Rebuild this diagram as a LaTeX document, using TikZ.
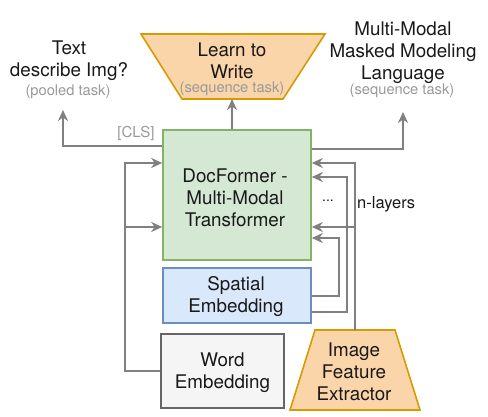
\documentclass[tikz,border=0pt]{standalone}
\usepackage{fontspec}
\setmainfont{TeX Gyre Heros}
\usetikzlibrary{arrows.meta}
\definecolor{gfill}{HTML}{D5E8D4}
\definecolor{gline}{HTML}{82B366}
\definecolor{bfill}{HTML}{DAE8FC}
\definecolor{bline}{HTML}{6C8EBF}
\definecolor{wfill}{HTML}{F5F5F5}
\definecolor{wline}{HTML}{666666}
\definecolor{ofill}{HTML}{FAD5A9}
\definecolor{oline}{HTML}{D79B00}
\definecolor{arrc}{HTML}{808080}
\definecolor{subc}{HTML}{999999}
\tikzset{
  box/.style={draw, line width=1.6pt, inner sep=0pt, align=center},
  maintxt/.style={font=\fontsize{18.8}{22}\selectfont, align=center, inner sep=0pt, text=black!90},
  subtxt/.style={font=\fontsize{14.7}{16}\selectfont, inner sep=0pt, text=subc},
  arr/.style={draw=arrc, line width=1.8pt, -{Stealth[length=11pt,width=10pt]}},
}
\begin{document}
\begin{tikzpicture}[x=1pt,y=-1pt]
\useasboundingbox (0,0) rectangle (488,417);
% boxes
\node[box, draw=gline, fill=gfill, minimum width=148pt, minimum height=130pt] (green) at (237,195) {};
\node[maintxt] (greent) at (235,198) {DocFormer -\\Multi-Modal\\Transformer};
\node[box, draw=bline, fill=bfill, minimum width=148pt, minimum height=55pt] (blue) at (237,295.5) {};
\node[maintxt] (bluet) at (236,297) {Spatial\\Embedding};
\node[box, draw=wline, fill=wfill, minimum width=123pt, minimum height=74pt] (word) at (222.5,371) {};
\node[maintxt] (wordt) at (222.5,373) {Word\\Embedding};
% trapezoids
\draw[line width=1.6pt, draw=oline, fill=ofill] (141,34) -- (325,34) -- (283,99) -- (182,99) -- cycle;
\coordinate (ltwb) at (232,99);
\node[maintxt] (ltw) at (232,61) {Learn to\\Write};
\node[subtxt] (ltws) at (232,89) {(sequence task)};
\draw[line width=1.6pt, draw=oline, fill=ofill] (315,330) -- (395,330) -- (420,410) -- (290,410) -- cycle;
\coordinate (ifet) at (355,330);
\node[maintxt] (ife) at (354,372) {Image\\Feature\\Extractor};
% outputs text
\node[maintxt] (lt) at (69,61) {Text\\describe Img?};
\node[subtxt] (lts) at (68,92) {(pooled task)};
\node[maintxt] (rt) at (403,53) {Multi-Modal\\Masked Modeling\\Language};
\node[subtxt] (rts) at (402,91) {(sequence task)};
\node[subtxt, font=\fontsize{15}{16}\selectfont] (cls) at (136,133) {[CLS]};
\node[maintxt, font=\fontsize{14}{16}\selectfont] (dots) at (328,201) {...};
\node[maintxt, font=\fontsize{16.5}{18}\selectfont, anchor=west] (nl) at (357,204) {n-layers};
% output arrows
\coordinate (ltip) at (63,110);
\coordinate (rtip) at (403,112);
\draw[arr] (green.west |- 0,146) -| (ltip);
\draw[arr] (green.east |- 0,149) -| (rtip);
\draw[arr] (green.north -| ltwb) -- (ltwb);
% left inputs
\coordinate (lj) at (125,227);
\draw[arr] (word.west) -| (125,163) -- (green.west |- 0,163);
\draw[arr] (lj) -- (green.west |- lj);
% right inputs
\coordinate (rj) at (355,227);
\draw[arr] (ifet) -- (355,163) -- (green.east |- 0,163);
\draw[arr] (rj) -- (green.east |- rj);
\draw[arr] (blue.east |- 0,312) -| (347,177) -- (green.east |- 0,177);
\draw[arr] (blue.east |- 0,296) -| (339,238) -- (green.east |- 0,238);
\end{tikzpicture}
\end{document}
